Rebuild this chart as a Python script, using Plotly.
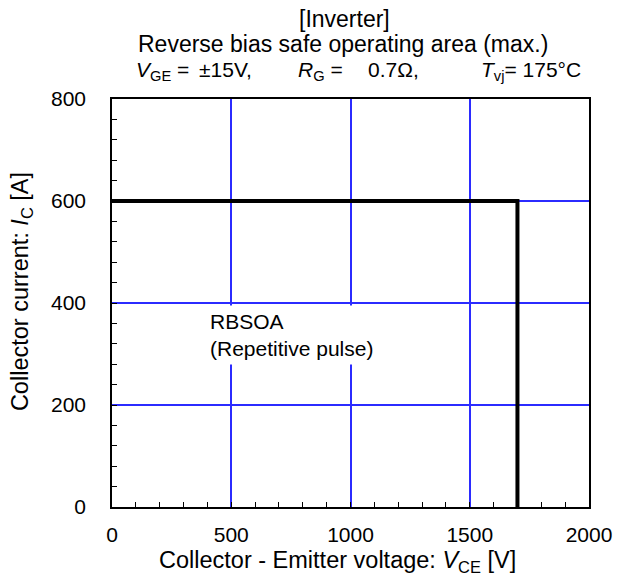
import plotly.graph_objects as go

# RBSOA boundary (max.)
vce_limit = [0, 1700, 1700]
ic_limit = [600, 600, 0]

x_ticks = [0, 500, 1000, 1500, 2000]
y_ticks = [0, 200, 400, 600, 800]

FONT = "Liberation Sans, Arial, sans-serif"
W, H = 624, 575
L, R, T, B = 112, 24, 99, 68
PW, PH = W - L - R, H - T - B


def px(xp):
    return (xp - L) / PW


def py(yp):
    return (H - B - yp) / PH


fig = go.Figure()
fig.add_trace(go.Scatter(
    x=vce_limit, y=ic_limit, mode="lines",
    line=dict(color="black", width=4),
    showlegend=False, hoverinfo="skip",
))

axis_common = dict(
    showline=True, linecolor="black", linewidth=1.5, mirror=True,
    showgrid=True, gridcolor="#2b2bff", gridwidth=1.5,
    zeroline=False,
    ticks="inside", ticklen=5, tickwidth=1, tickcolor="black",
    tickfont=dict(family=FONT, size=21, color="black"),
)

fig.update_xaxes(
    range=[0, 2000], tickvals=x_ticks, ticktext=[str(v) for v in x_ticks],
    minor=dict(dtick=100, ticks="inside", ticklen=5, tickcolor="black", showgrid=False),
    ticklabelstandoff=8,
    **axis_common,
)
fig.update_yaxes(
    range=[0, 800], tickvals=y_ticks, ticktext=[str(v) for v in y_ticks],
    minor=dict(dtick=40, ticks="inside", ticklen=5, tickcolor="black", showgrid=False),
    ticklabelstandoff=20,
    **axis_common,
)

hf = dict(family=FONT, size=23, color="black")   # heading lines
cf = dict(family=FONT, size=21, color="black")   # condition line / note
af = dict(family=FONT, size=23.5, color="black")  # axis titles

ann = []
ann.append(dict(text="[Inverter]", x=px(350), y=py(19), xanchor="center", yanchor="middle", font=hf))
ann.append(dict(text="Reverse bias safe operating area (max.)", x=px(348), y=py(44),
                xanchor="center", yanchor="middle", font=hf))
ann.append(dict(text="<i>V</i><sub>GE</sub> =", x=px(135), y=py(71), xanchor="left", yanchor="middle", font=cf))
ann.append(dict(text="±15V,", x=px(199), y=py(69), xanchor="left", yanchor="middle", font=cf))
ann.append(dict(text="<i>R</i><sub>G</sub> =", x=px(300), y=py(71), xanchor="left", yanchor="middle", font=cf))
ann.append(dict(text="0.7Ω,", x=px(372), y=py(69), xanchor="left", yanchor="middle", font=cf))
ann.append(dict(text="<i>T</i><sub>vj</sub>= 175°C", x=px(487), y=py(71), xanchor="left", yanchor="middle", font=cf))
ann.append(dict(text="Collector - Emitter voltage: <i>V</i><sub>CE</sub> [V]", x=px(343), y=py(561),
                xanchor="center", yanchor="middle", font=af))
ann.append(dict(text="Collector current: <i>I</i><sub>C</sub> [A]", x=px(19), y=py(292),
                xanchor="center", yanchor="middle", textangle=-90, font=af))
for a in ann:
    a.update(xref="paper", yref="paper", showarrow=False)

ann.append(dict(text="RBSOA<br>(Repetitive pulse)", x=388, y=337, xref="x", yref="y",
                xanchor="left", yanchor="middle", align="left", showarrow=False,
                bgcolor="white", borderpad=4, font=cf))

fig.update_layout(
    width=W, height=H,
    margin=dict(l=L, r=R, t=T, b=B),
    paper_bgcolor="white", plot_bgcolor="white",
    annotations=ann,
    font=dict(family=FONT, size=21, color="black"),
)

fig.write_html("out.html")
